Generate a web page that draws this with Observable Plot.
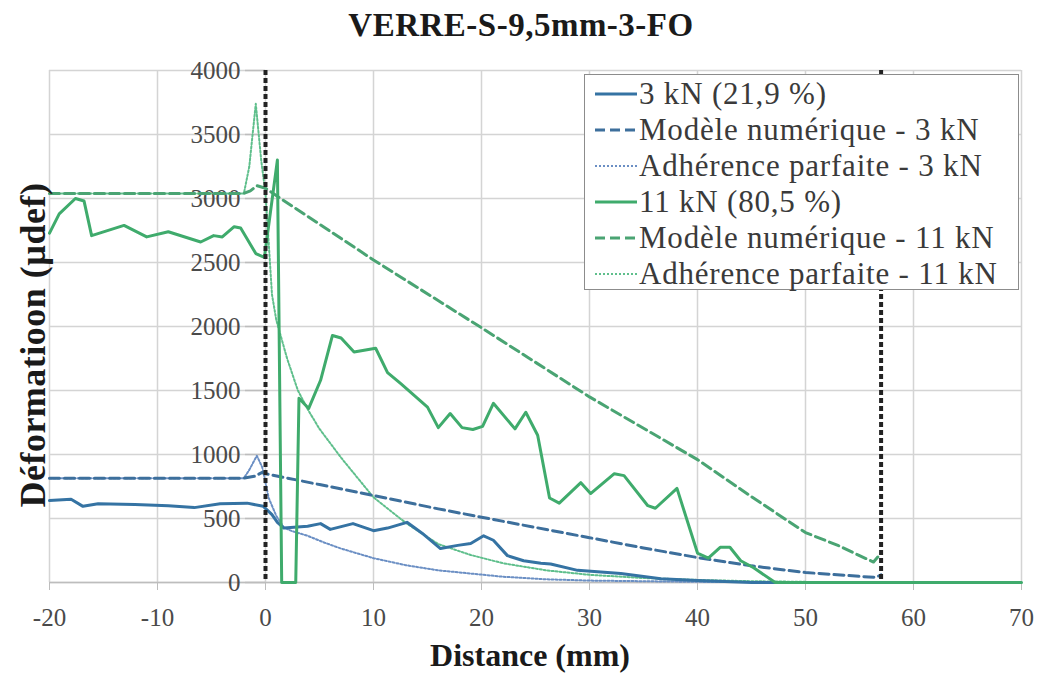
<!DOCTYPE html>
<html>
<head>
<meta charset="utf-8">
<script src="https://cdn.jsdelivr.net/npm/d3@7"></script>
<script src="https://cdn.jsdelivr.net/npm/@observablehq/plot@0.6"></script>
<style>
  body { margin: 0; background: #fff; }
  #wrap { position: relative; width: 1038px; height: 677px; overflow: hidden; font-family: "Liberation Serif", "Times New Roman", serif; }
  #wrap svg.plot { position: absolute; left: 0; top: 0; }
  .title { position: absolute; left: 0; width: 1042px; top: 9px; text-align: center; font-size: 33px; font-weight: bold; line-height: 1; color: #1a1a1a; letter-spacing: 0.5px; }
  .xlabel { position: absolute; left: 0; width: 1060px; top: 639px; text-align: center; font-size: 32px; font-weight: bold; line-height: 1; color: #1a1a1a; }
  .ylabel { position: absolute; left: 33px; top: 345px; transform: translate(-50%, -50%) rotate(-90deg); white-space: nowrap; font-size: 36px; font-weight: bold; line-height: 1; color: #1a1a1a; letter-spacing: 0.5px; }
  .legend { position: absolute; left: 584px; top: 74px; width: 435px; height: 216px; border: 1.5px solid #8c8c8c; background: #fff; padding-top: 1px; box-sizing: border-box; }
  .legend .row { display: flex; align-items: center; height: 36px; white-space: nowrap; font-size: 31px; color: #3a3a3a; letter-spacing: 0.8px; }
  .legend svg { margin-left: 10px; margin-right: 2px; flex: none; }
</style>
</head>
<body>
<div id="wrap"></div>
<script>
// ---- data ----
const xTicks = [-20, -10, 0, 10, 20, 30, 40, 50, 60, 70];
const yTicks = [0, 500, 1000, 1500, 2000, 2500, 3000, 3500, 4000];
const boundaries = [0, 57];

const seriesNames = [
  "3 kN (21,9 %)",
  "Modèle numérique - 3 kN",
  "Adhérence parfaite - 3 kN",
  "11 kN (80,5 %)",
  "Modèle numérique - 11 kN",
  "Adhérence parfaite - 11 kN"
];

// 3 kN measured
const meas3X = [-20, -18, -16.9, -15.5, -12.1, -9.0, -6.6, -4.2, -1.7, -0.2, 0.6, 1.1, 1.7, 3.9, 5.1, 6.0, 8.1, 10.0, 11.3, 13.1, 14.5, 16.2, 17.8, 19.0, 20.2, 21.1, 22.4, 23.9, 25.5, 26.4, 28.9, 32.9, 36.6, 40, 45, 57];
const meas3Y = [640, 650, 595, 615, 610, 600, 585, 615, 620, 595, 530, 470, 425, 440, 460, 415, 460, 405, 425, 470, 385, 265, 290, 305, 365, 330, 210, 170, 150, 145, 95, 70, 30, 15, 0, 0];

// 3 kN numerical model
const model3X = [-20, -2, -1, -0.3, 0, 5, 10, 16, 20, 25, 30, 35, 40, 45, 50, 55, 56.5, 57];
const model3Y = [815, 815, 830, 860, 850, 765, 680, 575, 510, 430, 350, 270, 195, 130, 78, 48, 40, 60];

// 3 kN perfect adhesion
const perfect3X = [-20, -2, -1.5, -0.8, -0.3, 0.3, 1.0, 1.7, 2.5, 3.9, 5.5, 7, 10, 13, 16, 19, 22, 26, 30, 40, 57];
const perfect3Y = [815, 815, 880, 990, 900, 660, 520, 430, 400, 365, 310, 265, 190, 135, 95, 70, 45, 25, 15, 5, 0];

// 11 kN measured
const meas11X = [-20, -19.1, -17.6, -16.8, -16.1, -13.1, -11.0, -9.0, -6.0, -4.8, -4.0, -2.9, -2.3, -0.9, -0.1, 1.1, 1.5, 2.8, 3.1, 4.0, 5.1, 6.2, 7.0, 8.2, 10.2, 11.3, 12.5, 15.0, 16.0, 17.1, 18.2, 19.2, 20.1, 21.1, 23.1, 24.1, 25.2, 26.3, 27.2, 29.2, 30.1, 32.3, 33.2, 35.4, 36.1, 38.1, 40.0, 41.0, 42.1, 43.0, 44.0, 45.2, 47.2, 70];
const meas11Y = [2730, 2880, 3000, 2980, 2710, 2790, 2700, 2740, 2660, 2710, 2700, 2780, 2770, 2570, 2540, 3300, 0, 0, 1440, 1360, 1580, 1930, 1910, 1800, 1830, 1640, 1555, 1370, 1210, 1320, 1210, 1195, 1220, 1400, 1200, 1330, 1150, 660, 620, 780, 695, 850, 835, 600, 580, 735, 230, 190, 275, 275, 170, 115, 0, 0];

// 11 kN numerical model
const model11X = [-20, -2, -1.4, -0.8, 0, 1.4, 10, 20, 30, 40, 45, 50, 53, 55, 56.3, 57];
const model11Y = [3040, 3040, 3060, 3100, 3080, 3000, 2520, 1990, 1450, 960, 670, 390, 290, 210, 160, 230];

// 11 kN perfect adhesion
const perfect11X = [-20, -2, -1.5, -0.9, -0.4, 0, 0.3, 0.6, 1.0, 1.4, 2, 3, 4, 5, 7, 10, 13, 16, 19, 22, 26, 30, 35, 40, 45, 50, 57];
const perfect11Y = [3040, 3040, 3250, 3740, 3300, 3040, 2650, 2250, 2050, 1930, 1750, 1500, 1340, 1200, 975, 665, 465, 300, 215, 150, 95, 60, 35, 20, 10, 5, 0];

// ---- styles ----
const blue = "#3573a3";
const green = "#3fab6c";
const styles = [
  {stroke: blue, dash: null, width: 3},
  {stroke: "#3d6f9c", dash: "10,5", width: 3},
  {stroke: "#6b8fc4", dash: "2,2", width: 2},
  {stroke: green, dash: null, width: 3},
  {stroke: "#4aa473", dash: "10,5", width: 3},
  {stroke: "#5fbf8c", dash: "2,2", width: 2}
];

const zip = (xs, ys) => xs.map((x, i) => ({x, y: ys[i]}));
const series = [
  zip(meas3X, meas3Y),
  zip(model3X, model3Y),
  zip(perfect3X, perfect3Y),
  zip(meas11X, meas11Y),
  zip(model11X, model11Y),
  zip(perfect11X, perfect11Y)
];

const drawOrder = [2, 5, 1, 4, 0, 3];
const lineMarks = drawOrder.map(i => Plot.line(series[i], {
  x: "x", y: "y",
  stroke: styles[i].stroke,
  strokeWidth: styles[i].width,
  strokeDasharray: styles[i].dash,
  strokeLinejoin: "round"
}));

const chart = Plot.plot({
  width: 1038,
  height: 677,
  marginLeft: 49,
  marginRight: 17,
  marginTop: 70,
  marginBottom: 95,
  style: {fontFamily: "'Liberation Serif', serif", background: "transparent"},
  x: {domain: [-20, 70]},
  y: {domain: [0, 4000], axis: null},
  marks: [
    Plot.gridX(xTicks, {stroke: "#d4d4d4", strokeOpacity: 1, strokeWidth: 1.5}),
    Plot.gridY(yTicks, {stroke: "#d4d4d4", strokeOpacity: 1, strokeWidth: 1.5}),
    Plot.axisX(xTicks, {
      tickSize: 8, tickPadding: 18, fontSize: 25, label: null,
      stroke: "#bdbdbd", fill: "#4a4a4a", tickFormat: d => String(d)
    }),
    Plot.ruleY([0], {stroke: "#bdbdbd", strokeWidth: 1.5}),
    Plot.ruleY(yTicks, {x1: () => 0, x2: () => 0, insetLeft: -20, stroke: "#bdbdbd", strokeWidth: 1.5}),
    Plot.text(yTicks, {
      x: () => 0, y: d => d, text: d => String(d),
      textAnchor: "end", dx: -25, fontSize: 25, fill: "#4a4a4a"
    }),
    ...lineMarks,
    Plot.ruleX(boundaries, {stroke: "#222", strokeWidth: 4, strokeDasharray: "5,3"})
  ]
});
chart.classList.add("plot");

const wrap = document.getElementById("wrap");
wrap.appendChild(chart);

const title = document.createElement("div");
title.className = "title";
title.textContent = "VERRE-S-9,5mm-3-FO";
wrap.appendChild(title);

const xl = document.createElement("div");
xl.className = "xlabel";
xl.textContent = "Distance (mm)";
wrap.appendChild(xl);

const yl = document.createElement("div");
yl.className = "ylabel";
yl.textContent = "Déformatioon (µdef)";
wrap.appendChild(yl);

const legend = document.createElement("div");
legend.className = "legend";
seriesNames.forEach((name, i) => {
  const row = document.createElement("div");
  row.className = "row";
  const s = d3.create("svg").attr("width", 42).attr("height", 12);
  s.append("line").attr("x1", 0).attr("x2", 42).attr("y1", 6).attr("y2", 6)
    .attr("stroke", styles[i].stroke).attr("stroke-width", styles[i].width)
    .attr("stroke-dasharray", styles[i].dash);
  row.appendChild(s.node());
  const t = document.createElement("span");
  t.textContent = name;
  row.appendChild(t);
  legend.appendChild(row);
});
wrap.appendChild(legend);
</script>
</body>
</html>
